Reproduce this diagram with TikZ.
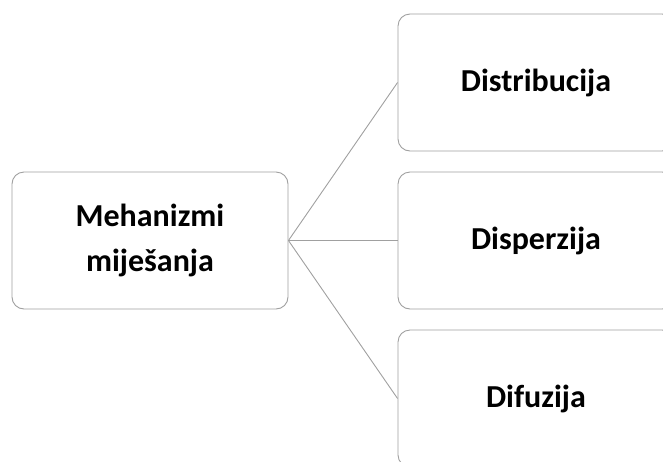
\documentclass[tikz,border=0pt]{standalone}
\usepackage{fontspec}
\setmainfont{Carlito}
\definecolor{edgegray}{RGB}{160,160,160}
\tikzset{
  box/.style={draw=edgegray, line width=0.9pt, rounded corners=12pt, fill=white,
    minimum width=276pt, minimum height=137pt, inner sep=0pt, align=center,
    font=\fontsize{32pt}{45pt}\selectfont\bfseries},
  conn/.style={draw=edgegray, line width=0.9pt}
}
\begin{document}
\begin{tikzpicture}[x=1pt,y=-1pt]
\useasboundingbox (0,0) rectangle (663,461);
\clip (0,0) rectangle (663,461);
\node[box] (mix) at (150,240.5) {Mehanizmi\\miješanja};
\node[box] (dist) at (536,82.5) {Distribucija};
\node[box] (disp) at (536,240.5) {Disperzija};
\node[box] (difu) at (536,398.5) {Difuzija};
\draw[conn] (mix.east) -- (dist.west);
\draw[conn] (mix.east) -- (disp.west);
\draw[conn] (mix.east) -- (difu.west);
\end{tikzpicture}
\end{document}
